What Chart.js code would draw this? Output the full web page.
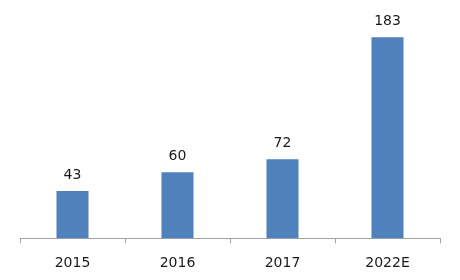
<!DOCTYPE html>
<html>
<head>
<meta charset="utf-8">
<script src="https://cdn.jsdelivr.net/npm/chart.js@4/dist/chart.umd.min.js"></script>
<style>
html,body{margin:0;padding:0;background:#fff;}
#wrap{width:460px;height:280px;position:relative;}
</style>
</head>
<body>
<div id="wrap"><canvas id="c"></canvas></div>
<script>
const years=['2015','2016','2017','2022E'];
const values=[43,60,72,183];

const valueLabels={
  id:'valueLabels',
  afterDatasetsDraw(chart){
    const ctx=chart.ctx;
    const meta=chart.getDatasetMeta(0);
    ctx.save();
    ctx.font='14px "DejaVu Sans"';
    ctx.fillStyle='#1a1a1a';
    ctx.textAlign='center';
    ctx.textBaseline='alphabetic';
    meta.data.forEach((bar,i)=>{ctx.fillText(String(values[i]),bar.x,bar.y-12);});
    ctx.restore();
  }
};

new Chart(document.getElementById('c'),{
  type:'bar',
  data:{labels:years,datasets:[{data:values,backgroundColor:'#4f81bd',categoryPercentage:1,barPercentage:0.305}]},
  options:{
    responsive:true,maintainAspectRatio:false,animation:false,
    layout:{padding:{left:20,right:20,top:0,bottom:-4}},
    plugins:{legend:{display:false},tooltip:{enabled:false}},
    scales:{
      x:{
        offset:true,
        border:{color:'#a0a0a0',width:1},
        grid:{display:true,drawOnChartArea:false,offset:true,tickLength:5,color:'#a0a0a0'},
        ticks:{color:'#1a1a1a',font:{family:'DejaVu Sans',size:14},padding:12}
      },
      y:{display:false,min:0,max:217}
    }
  },
  plugins:[valueLabels]
});
</script>
</body>
</html>
